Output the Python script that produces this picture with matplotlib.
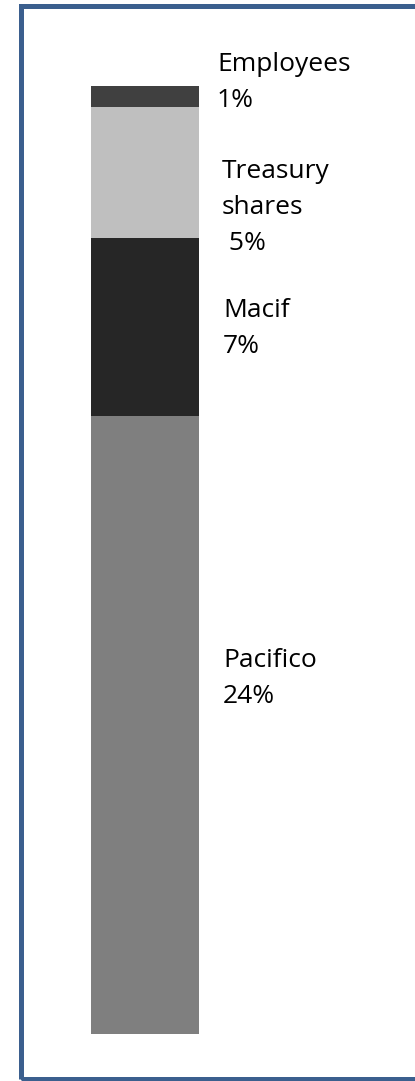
import matplotlib
matplotlib.use("Agg")
import matplotlib.pyplot as plt
from matplotlib.patches import Rectangle

# Data
categories = ["Pacifico", "Macif", "Treasury shares", "Employees"]
values = [24.0, 6.9, 5.1, 0.8]
labels = ["Pacifico\n24%", "Macif\n7%", "Treasury\nshares\n 5%", "Employees\n1%"]
colors = ["#7F7F7F", "#262626", "#BFBFBF", "#404040"]
# label offsets (pixels) relative to segment centre (x offset from bar right edge, y offset)
label_dx = [24, 24, 23, 18]
label_dy = [22, -26, -78, -11]

W, H = 415, 1081
fig = plt.figure(figsize=(W / 100, H / 100), dpi=100)
fig.patch.set_facecolor("white")

# border frame (figure pixel coords)
frame = Rectangle((20.5 / W, 1 - 1079 / H), (W + 10) / W, (1079 - 5.5) / H,
                  transform=fig.transFigure, fill=False, edgecolor="#3B5F8E",
                  linewidth=5 * 0.72, clip_on=False)
fig.patches.append(frame)

bar_left, bar_right, bar_top, bar_bottom = 91, 199, 86, 1034
ax = fig.add_axes([bar_left / W, 1 - bar_bottom / H,
                   (bar_right - bar_left) / W, (bar_bottom - bar_top) / H])
total = sum(values)
ax.set_xlim(-0.5, 0.5)
ax.set_ylim(0, total)
ax.axis("off")

bottom = 0
for v, c, lab, dx, dy in zip(values, colors, labels, label_dx, label_dy):
    ax.bar(0, v, width=1.0, bottom=bottom, color=c, edgecolor="none")
    ax.annotate(lab, xy=(0.5, bottom + v / 2), xytext=(dx, dy),
                textcoords="offset pixels", ha="left", va="baseline",
                fontsize=19, family="Open Sans", linespacing=1.58,
                color="black", annotation_clip=False)
    bottom += v

fig.savefig("out.png", dpi=100, facecolor="white")
